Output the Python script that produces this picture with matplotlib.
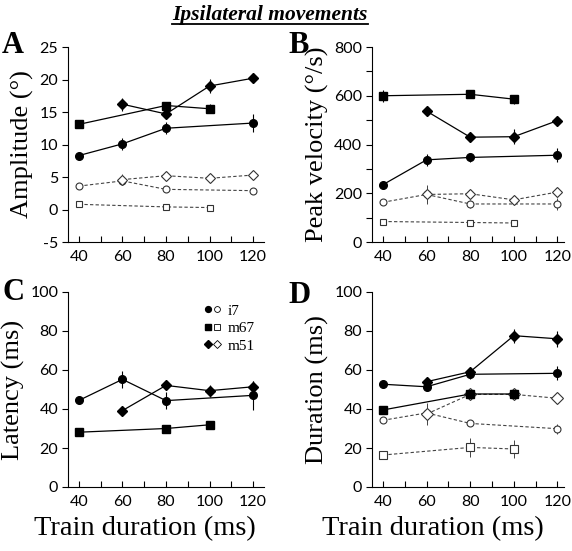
import numpy as np
import matplotlib
matplotlib.use("Agg")
import matplotlib.pyplot as plt
from matplotlib.legend_handler import HandlerTuple
from matplotlib.lines import Line2D

# ---- data (x = train duration in ms) ----
x_i7 = [40, 60, 80, 120]
x_m67 = [40, 80, 100]
x_m51 = [60, 80, 100, 120]

# A: amplitude (deg)
amp_i7_f = [8.3, 10.1, 12.5, 13.3];  amp_i7_f_e = [0.4, 0.9, 0.9, 1.4]
amp_m67_f = [13.1, 16.0, 15.5];      amp_m67_f_e = [0.3, 0.3, 0.7]
amp_m51_f = [16.2, 14.7, 19.0, 20.2]; amp_m51_f_e = [1.0, 0.6, 1.1, 0.8]
amp_i7_o = [3.6, 4.4, 3.1, 2.9];     amp_i7_o_e = [0.3, 0.5, 0.3, 0.4]
amp_m67_o = [0.8, 0.4, 0.3];         amp_m67_o_e = [0.3, 0.3, 0.3]
amp_m51_o = [4.6, 5.2, 4.8, 5.3];    amp_m51_o_e = [0.8, 0.5, 0.4, 0.4]

# B: peak velocity (deg/s)
vel_i7_f = [235, 337, 347, 356];   vel_i7_f_e = [8, 25, 20, 28]
vel_m67_f = [600, 606, 586];       vel_m67_f_e = [25, 8, 18]
vel_m51_f = [537, 430, 432, 498];  vel_m51_f_e = [8, 10, 30, 8]
vel_i7_o = [163, 195, 156, 156];   vel_i7_o_e = [8, 30, 15, 25]
vel_m67_o = [84, 80, 78];          vel_m67_o_e = [8, 8, 8]
vel_m51_o = [195, 198, 173, 205];  vel_m51_o_e = [40, 10, 10, 15]

# C: latency (ms)
lat_i7_f = [44.4, 55.2, 44.3, 47.0];  lat_i7_f_e = [0.8, 4.5, 4.5, 7.5]
lat_m67_f = [28.1, 30.0, 31.9];       lat_m67_f_e = [0.5, 0.5, 0.5]
lat_m51_f = [39.2, 52.1, 49.4, 51.4]; lat_m51_f_e = [0.8, 1.0, 3.0, 3.0]

# D: duration (ms)
dur_i7_f = [52.7, 51.4, 57.8, 58.3];  dur_i7_f_e = [2.0, 1.5, 2.5, 3.5]
dur_m67_f = [39.5, 47.7, 47.7];       dur_m67_f_e = [0.5, 1.0, 1.0]
dur_m51_f = [54.0, 59.1, 77.6, 76.0]; dur_m51_f_e = [1.5, 1.5, 3.5, 4.0]
dur_i7_o = [34.2, 38.0, 32.6, 29.9];  dur_i7_o_e = [1.0, 4.0, 1.5, 2.5]
dur_m67_o = [16.4, 20.3, 19.5];       dur_m67_o_e = [1.0, 5.0, 4.5]
dur_m51_o = [37.4, 47.5, 47.5, 45.5]; dur_m51_o_e = [5.5, 1.5, 1.5, 1.0]

serif = 'Liberation Serif'
tickfont = 'Lato'

fig = plt.figure(figsize=(5.72, 5.51), dpi=100)
W, H = 572, 551

def make_ax(l, t, r, b):
    return fig.add_axes([l / W, 1 - b / H, (r - l) / W, (b - t) / H])

axA = make_ax(68, 47, 264, 242)
axB = make_ax(372, 47, 564, 242)
axC = make_ax(68, 292, 264, 487)
axD = make_ax(372, 292, 564, 487)

def filled(ax, x, y, e, m, ms):
    ax.errorbar(x, y, yerr=e, fmt='-', marker=m, color='black', ms=ms,
                mfc='black', mec='black', lw=0.9, elinewidth=0.8, capsize=0, zorder=3)

def hollow(ax, x, y, e, m, ms):
    ax.errorbar(x, y, yerr=e, fmt='--', marker=m, color='#444444', ms=ms,
                mfc='white', mec='#333333', mew=0.8, lw=0.8, elinewidth=0.7,
                capsize=0, dashes=(3, 2), zorder=2)

def style(ax, ylim, yticks, ylabels, ylabel, xlim):
    ax.set_xlim(*xlim)
    ax.set_ylim(*ylim)
    ax.set_xticks(range(40, 121, 10))
    ax.set_xticklabels([str(v) if v % 20 == 0 else '' for v in range(40, 121, 10)])
    ax.set_yticks(yticks)
    ax.set_yticklabels(ylabels)
    for s in ['top', 'right']:
        ax.spines[s].set_visible(False)
    ax.tick_params(axis='x', direction='in', length=4, width=0.8, pad=6)
    ax.tick_params(axis='y', direction='out', length=4, width=0.8, pad=3)
    for lab in ax.get_xticklabels() + ax.get_yticklabels():
        lab.set_fontfamily(tickfont)
        lab.set_fontsize(11.5)
    ax.set_ylabel(ylabel, fontfamily=serif, fontsize=19, labelpad=4)

# A
filled(axA, x_i7, amp_i7_f, amp_i7_f_e, 'o', 5.5)
filled(axA, x_m67, amp_m67_f, amp_m67_f_e, 's', 5.5)
filled(axA, x_m51, amp_m51_f, amp_m51_f_e, 'D', 5.5)
hollow(axA, x_i7, amp_i7_o, amp_i7_o_e, 'o', 5)
hollow(axA, x_m67, amp_m67_o, amp_m67_o_e, 's', 5)
hollow(axA, x_m51, amp_m51_o, amp_m51_o_e, 'D', 5.5)
style(axA, (-5, 25), range(-5, 26, 5), [str(v) for v in range(-5, 26, 5)],
      'Amplitude (°)', (35, 125))

# B
filled(axB, x_i7, vel_i7_f, vel_i7_f_e, 'o', 5.5)
filled(axB, x_m67, vel_m67_f, vel_m67_f_e, 's', 5.5)
filled(axB, x_m51, vel_m51_f, vel_m51_f_e, 'D', 5.5)
hollow(axB, x_i7, vel_i7_o, vel_i7_o_e, 'o', 5)
hollow(axB, x_m67, vel_m67_o, vel_m67_o_e, 's', 5)
hollow(axB, x_m51, vel_m51_o, vel_m51_o_e, 'D', 5.5)
style(axB, (0, 800), range(0, 801, 100),
      [str(v) if v % 200 == 0 else '' for v in range(0, 801, 100)],
      'Peak velocity (°/s)', (35, 123))

# C
filled(axC, x_i7, lat_i7_f, lat_i7_f_e, 'o', 5.5)
filled(axC, x_m67, lat_m67_f, lat_m67_f_e, 's', 5.5)
filled(axC, x_m51, lat_m51_f, lat_m51_f_e, 'D', 5.5)
style(axC, (0, 100), range(0, 101, 20), [str(v) for v in range(0, 101, 20)],
      'Latency (ms)', (35, 125))

# D
filled(axD, x_i7, dur_i7_f, dur_i7_f_e, 'o', 5.5)
filled(axD, x_m67, dur_m67_f, dur_m67_f_e, 's', 5.5)
filled(axD, x_m51, dur_m51_f, dur_m51_f_e, 'D', 5.5)
hollow(axD, x_i7, dur_i7_o, dur_i7_o_e, 'o', 5)
hollow(axD, x_m67, dur_m67_o, dur_m67_o_e, 's', 5.5)
hollow(axD, x_m51, dur_m51_o, dur_m51_o_e, 'D', 6)
style(axD, (0, 100), range(0, 101, 20), [str(v) for v in range(0, 101, 20)],
      'Duration (ms)', (35, 123))

# x labels, shifted left like the original
for ax, cx in ((axC, 145), (axD, 433)):
    ax.set_xlabel('Train duration (ms)', fontfamily=serif, fontsize=20.5)
    pos = ax.get_position()
    ax.xaxis.set_label_coords((cx / W - pos.x0) / pos.width, -0.15)
    ax.xaxis.label.set_va('top')

# legend in C
def pair(m):
    f = Line2D([], [], ls='none', marker=m, color='black', ms=4.2)
    o = Line2D([], [], ls='none', marker=m, mfc='white', mec='black', mew=0.6, ms=4.2)
    return (f, o)

axC.legend([pair('o'), pair('s'), pair('D')], ['i7', 'm67', 'm51'],
           handler_map={tuple: HandlerTuple(ndivide=None, pad=0.2)},
           loc='upper left', bbox_to_anchor=(0.67, 0.97), frameon=False,
           prop={'family': serif, 'size': 11}, handlelength=0.9,
           handletextpad=0.55, labelspacing=0.25, borderaxespad=0)

# panel letters
for lab, (px, py) in zip('ABCD', [(2, 53), (288, 53), (2, 300), (288, 303)]):
    fig.text(px / W, 1 - py / H, lab, fontfamily=serif, fontweight='bold',
             fontsize=22, ha='left', va='baseline')

# title
t = fig.text(270 / W, 1 - 20 / H, 'Ipsilateral movements', fontfamily=serif,
             fontweight='bold', fontstyle='italic', fontsize=15.5,
             ha='center', va='baseline')
fig.canvas.draw()
bb = t.get_window_extent()
fig.add_artist(Line2D([bb.x0 / W, bb.x1 / W], [(551 - 24) / H, (551 - 24) / H],
                      color='black', lw=1.3, transform=fig.transFigure))

fig.savefig('out.png', dpi=100)
